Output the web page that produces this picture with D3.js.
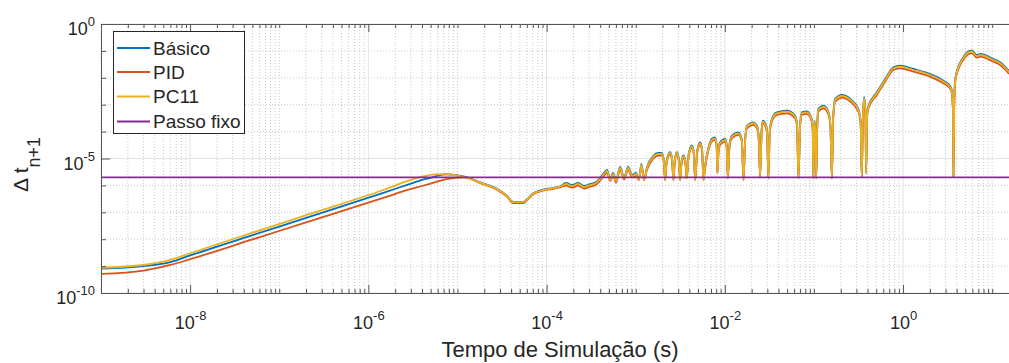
<!DOCTYPE html>
<html><head><meta charset="utf-8">
<script src="https://cdn.jsdelivr.net/npm/d3@7"></script>
<style>body{margin:0;background:#fff}svg{display:block}text{font-family:"Liberation Sans",Arial,Helvetica,sans-serif;fill:#262626}</style>
</head><body>
<script>
// ---------- DATA ----------
const seriesNames = ["Básico", "PID", "PC11", "Passo fixo"];
const seriesColors = ["#0072BD", "#D95319", "#EDB120", "#7E2F8E"];

const time = [
 1e-9, 3e-9, 6e-9, 1e-8, 5e-8, 2e-7, 1.5e-6, 3e-6, 4e-6, 5e-6, 6e-6, 7.5e-6, 1.2e-5, 1.8e-5, 2.8e-5, 3.6e-5, 4.2e-5, 5.5e-5, 6.0e-5, 7.1e-5, 8.5e-5, 1.2e-4, 1.4e-4,
 1.66e-4, 1.93e-4, 2.26e-4, 2.64e-4, 3.08e-4, 3.60e-4, 3.98e-4, 4.41e-4, 4.78e-4, 5.16e-4, 5.57e-4, 6.03e-4, 6.68e-4, 7.41e-4, 8.22e-4, 9.12e-4,
 1.01e-3, 1.08e-3, 1.16e-3, 1.24e-3, 1.34e-3, 1.57e-3, 1.78e-3, 1.95e-3, 2.06e-3, 2.14e-3, 2.22e-3, 2.43e-3, 2.55e-3, 2.65e-3, 2.75e-3, 2.89e-3,
 3.03e-3, 3.15e-3, 3.27e-3, 3.43e-3, 3.61e-3, 3.74e-3, 3.93e-3, 4.27e-3, 4.47e-3, 4.65e-3, 4.89e-3, 5.28e-3, 5.56e-3, 5.75e-3, 6.01e-3, 6.50e-3,
 7.14e-3, 7.78e-3, 8.09e-3, 8.26e-3, 8.51e-3, 8.85e-3, 1.01e-2, 1.05e-2, 1.08e-2, 1.13e-2, 1.20e-2, 1.42e-2, 1.55e-2, 1.62e-2, 1.69e-2, 1.77e-2,
 2.09e-2, 2.29e-2, 2.39e-2, 2.49e-2, 2.59e-2, 2.67e-2, 2.91e-2, 2.99e-2, 3.08e-2, 3.20e-2, 3.37e-2, 3.83e-2, 4.97e-2, 6.15e-2, 6.47e-2, 6.70e-2,
 7.00e-2, 7.31e-2, 8.32e-2, 9.46e-2, 9.70e-2, 9.86e-2, 1.005e-1, 1.019e-1, 1.04e-1, 1.06e-1, 1.09e-1, 1.12e-1, 1.28e-1, 1.46e-1, 1.53e-1, 1.59e-1,
 1.64e-1, 1.73e-1, 2.06e-1, 2.55e-1, 3.15e-1, 3.34e-1, 3.44e-1, 3.55e-1, 3.66e-1, 3.78e-1, 3.85e-1, 3.95e-1, 4.09e-1, 5.08e-1, 6.29e-1, 7.80e-1,
 9.27e-1, 1.31, 2.01, 2.84, 3.38, 3.53, 3.63, 3.68, 3.74, 3.85, 4.38, 4.76, 5.24, 5.92, 6.73, 7.33, 10.3, 12.3, 15.5, 18.1
];

const basico = [
 8.1e-10, 1.0e-9, 1.4e-9, 2.5e-9, 1.41e-8, 6.2e-8, 5.4e-7, 1.17e-6, 1.6e-6, 1.9e-6, 2.3e-6, 2.6e-6, 2.1e-6, 1.3e-6, 7.3e-7, 4.1e-7, 2.45e-7, 2.45e-7, 3.0e-7, 5.1e-7, 6.5e-7, 8.1e-7, 9.1e-7,
 1.23e-6, 1.04e-6, 1.23e-6, 9.5e-7, 1.12e-6, 1.34e-6, 1.89e-6, 2.89e-6, 3.74e-6, 1.7e-6, 2.89e-6, 1.6e-6, 4.83e-6, 2.0e-6, 4.83e-6, 2.44e-6,
 2.89e-6, 1.62e-6, 6.25e-6, 1.62e-6, 4.83e-6, 1.24e-5, 1.6e-5, 1.6e-5, 9.6e-6, 1.62e-6, 8.1e-6, 1.74e-5, 1.13e-5, 1.62e-6, 9.6e-6, 1.74e-5,
 1.13e-5, 1.62e-6, 8.1e-6, 1.3e-5, 8.1e-6, 1.9e-6, 1.47e-5, 3.04e-5, 1.9e-5, 1.62e-6, 1.9e-5, 4.0e-5, 2.26e-5, 1.62e-6, 5.4e-6, 2.26e-5,
 5.31e-5, 6.15e-5, 3.47e-5, 3.0e-6, 2.26e-5, 4.0e-5, 5.31e-5, 3.18e-5, 1.9e-6, 3.47e-5, 7.04e-5, 9.43e-5, 5.31e-5, 1.62e-6, 5.31e-5, 1.61e-4,
 2.22e-4, 1.66e-4, 8.15e-5, 2.1e-6, 1.25e-4, 2.54e-4, 1.66e-4, 8.15e-5, 1.86e-6, 1.25e-4, 2.94e-4, 5.22e-4, 6.0e-4, 3.9e-4, 1.92e-4, 1.86e-6,
 1.92e-4, 5.22e-4, 5.69e-4, 2.94e-4, 1.25e-4, 1.86e-6, 1.25e-4, 2.49e-4, 8.15e-5, 1.86e-6, 1.92e-4, 6.92e-4, 9.19e-4, 5.22e-4, 1.92e-4, 1.86e-6,
 2.94e-4, 1.64e-3, 2.3e-3, 1.64e-3, 6.92e-4, 2.49e-4, 2.1e-6, 4.51e-4, 1.89e-3, 6.92e-4, 2.9e-6, 4.51e-4, 9.19e-4, 2.89e-3, 9.03e-3, 2.46e-2,
 2.82e-2, 2.13e-2, 1.38e-2, 7.8e-3, 4.96e-3, 3.23e-3, 6.92e-4, 2.1e-6, 6.92e-4, 9.03e-3, 3.77e-2, 5.94e-2, 8.87e-2, 1.04e-1, 7.04e-2, 7.67e-2, 5.0e-2, 3.77e-2, 1.79e-2, 1.07e-2
];

const pid = [
 5.1e-10, 6.8e-10, 1.1e-9, 1.8e-9, 9.8e-9, 4.2e-8, 3.5e-7, 7.4e-7, 9.5e-7, 1.17e-6, 1.4e-6, 1.7e-6, 2.0e-6, 1.22e-6, 6.8e-7, 3.8e-7, 2.2e-7, 2.2e-7, 2.8e-7, 4.7e-7, 6.0e-7, 7.5e-7, 8.5e-7,
 9.8e-7, 8.3e-7, 9.8e-7, 7.6e-7, 9.0e-7, 1.07e-6, 1.5e-6, 2.3e-6, 2.98e-6, 1.45e-6, 2.3e-6, 1.27e-6, 3.85e-6, 1.64e-6, 3.85e-6, 1.95e-6,
 2.3e-6, 1.55e-6, 4.99e-6, 1.55e-6, 3.85e-6, 9.9e-6, 1.28e-5, 1.28e-5, 7.7e-6, 1.55e-6, 6.4e-6, 1.39e-5, 9.0e-6, 1.55e-6, 7.7e-6, 1.39e-5,
 9.0e-6, 1.55e-6, 6.4e-6, 1.04e-5, 6.4e-6, 1.83e-6, 1.17e-5, 2.43e-5, 1.51e-5, 1.55e-6, 1.51e-5, 3.19e-5, 1.8e-5, 1.55e-6, 4.3e-6, 1.8e-5,
 4.24e-5, 4.91e-5, 2.77e-5, 2.8e-6, 1.8e-5, 3.19e-5, 4.24e-5, 2.54e-5, 1.83e-6, 2.77e-5, 5.62e-5, 7.53e-5, 4.24e-5, 1.55e-6, 4.24e-5, 1.29e-4,
 1.77e-4, 1.32e-4, 6.51e-5, 2.05e-6, 1.0e-4, 2.03e-4, 1.32e-4, 6.51e-5, 1.8e-6, 1.0e-4, 2.35e-4, 4.17e-4, 4.79e-4, 3.11e-4, 1.53e-4, 1.8e-6,
 1.53e-4, 4.17e-4, 4.54e-4, 2.35e-4, 1.0e-4, 1.8e-6, 1.0e-4, 1.98e-4, 6.51e-5, 1.8e-6, 1.53e-4, 5.52e-4, 7.33e-4, 4.17e-4, 1.53e-4, 1.8e-6,
 2.35e-4, 1.31e-3, 1.84e-3, 1.31e-3, 5.52e-4, 1.98e-4, 2.05e-6, 3.6e-4, 1.51e-3, 5.52e-4, 2.75e-6, 3.6e-4, 7.33e-4, 2.31e-3, 7.2e-3, 1.97e-2,
 2.25e-2, 1.7e-2, 1.1e-2, 6.23e-3, 3.96e-3, 2.58e-3, 5.52e-4, 2.05e-6, 5.52e-4, 7.2e-3, 3.01e-2, 4.74e-2, 7.08e-2, 8.27e-2, 5.62e-2, 6.12e-2, 3.99e-2, 3.01e-2, 1.43e-2, 8.5e-3
];

const pc11 = [
 8.7e-10, 1.1e-9, 1.7e-9, 3.0e-9, 1.74e-8, 7.8e-8, 6.9e-7, 1.6e-6, 2.1e-6, 2.45e-6, 2.6e-6, 2.6e-6, 2.0e-6, 1.26e-6, 7.1e-7, 4.0e-7, 2.4e-7, 2.4e-7, 2.95e-7, 5.0e-7, 6.3e-7, 7.9e-7, 8.9e-7,
 1.13e-6, 9.5e-7, 1.13e-6, 8.7e-7, 1.03e-6, 1.23e-6, 1.73e-6, 2.65e-6, 3.43e-6, 1.59e-6, 2.65e-6, 1.46e-6, 4.43e-6, 1.88e-6, 4.43e-6, 2.24e-6,
 2.65e-6, 1.59e-6, 5.73e-6, 1.59e-6, 4.43e-6, 1.14e-5, 1.47e-5, 1.47e-5, 8.8e-6, 1.59e-6, 7.4e-6, 1.60e-5, 1.04e-5, 1.59e-6, 8.8e-6, 1.60e-5,
 1.04e-5, 1.59e-6, 7.4e-6, 1.19e-5, 7.4e-6, 1.88e-6, 1.35e-5, 2.79e-5, 1.74e-5, 1.59e-6, 1.74e-5, 3.67e-5, 2.07e-5, 1.59e-6, 4.96e-6, 2.07e-5,
 4.87e-5, 5.64e-5, 3.18e-5, 2.89e-6, 2.07e-5, 3.67e-5, 4.87e-5, 2.92e-5, 1.88e-6, 3.18e-5, 6.46e-5, 8.65e-5, 4.87e-5, 1.59e-6, 4.87e-5, 1.48e-4,
 2.04e-4, 1.52e-4, 7.48e-5, 2.10e-6, 1.15e-4, 2.33e-4, 1.52e-4, 7.48e-5, 1.84e-6, 1.15e-4, 2.70e-4, 4.79e-4, 5.50e-4, 3.58e-4, 1.76e-4, 1.84e-6,
 1.76e-4, 4.79e-4, 5.22e-4, 2.70e-4, 1.15e-4, 1.84e-6, 1.15e-4, 2.28e-4, 7.48e-5, 1.84e-6, 1.76e-4, 6.35e-4, 8.43e-4, 4.79e-4, 1.76e-4, 1.84e-6,
 2.70e-4, 1.50e-3, 2.11e-3, 1.50e-3, 6.35e-4, 2.28e-4, 2.10e-6, 4.14e-4, 1.73e-3, 6.35e-4, 2.82e-6, 4.14e-4, 8.43e-4, 2.65e-3, 8.28e-3, 2.26e-2,
 2.59e-2, 1.95e-2, 1.27e-2, 7.16e-3, 4.55e-3, 2.96e-3, 6.35e-4, 2.10e-6, 6.35e-4, 8.28e-3, 3.46e-2, 5.45e-2, 8.14e-2, 9.5e-2, 6.46e-2, 7.04e-2, 4.59e-2, 3.46e-2, 1.64e-2, 9.8e-3
];

const passoFixoTime = [1e-9, 20];
const passoFixo = [2e-6, 2e-6];

const xDomain = [1e-9, 20];
const yDomain = [1e-10, 1];
const xMajorTicks = [1e-8, 1e-6, 1e-4, 1e-2, 1e0];
const yMajorTicks = [1e-10, 1e-5, 1e0];
const xLabel = "Tempo de Simulação (s)";

// ---------- LAYOUT ----------
const W = 1009, H = 363;
const L = 101, R = 1019, T = 24, B = 293;
const svg = d3.select("body").append("svg").attr("width", W).attr("height", H);

const x = d3.scaleLog().domain(xDomain).range([L, R]);
const y = d3.scaleLog().domain(yDomain).range([B, T]);

const xMinor = [];
for (let e = -9; e <= 1; e++) for (let m = 1; m <= 9; m++) {
  const v = m * Math.pow(10, e);
  if (v >= xDomain[0] && v <= xDomain[1] && !xMajorTicks.some(t => Math.abs(t - v) / v < 1e-9)) xMinor.push(v);
}
const yMinor = [];
for (let e = -10; e <= 0; e++) { const v = Math.pow(10, e); if (!yMajorTicks.some(t => Math.abs(t - v) / v < 1e-9)) yMinor.push(v); }

// grid
const grid = svg.append("g");
grid.selectAll(".gxm").data(xMinor).join("line")
  .attr("x1", d => x(d)).attr("x2", d => x(d)).attr("y1", T).attr("y2", B)
  .attr("stroke", "#c9c9c9").attr("stroke-width", 1).attr("stroke-dasharray", "1,2");
grid.selectAll(".gym").data(yMinor).join("line")
  .attr("x1", L).attr("x2", W).attr("y1", d => y(d)).attr("y2", d => y(d))
  .attr("stroke", "#c9c9c9").attr("stroke-width", 1).attr("stroke-dasharray", "1,2");
grid.selectAll(".gxM").data(xMajorTicks).join("line")
  .attr("x1", d => x(d)).attr("x2", d => x(d)).attr("y1", T).attr("y2", B)
  .attr("stroke", "#e3e3e3").attr("stroke-width", 1);
grid.selectAll(".gyM").data(yMajorTicks).join("line")
  .attr("x1", L).attr("x2", W).attr("y1", d => y(d)).attr("y2", d => y(d))
  .attr("stroke", "#e3e3e3").attr("stroke-width", 1);

// lines
svg.append("clipPath").attr("id", "clip").append("rect").attr("x", L).attr("y", T).attr("width", R - L).attr("height", B - T);
const plot = svg.append("g").attr("clip-path", "url(#clip)");
const line = d3.line().x(d => x(d[0])).y(d => y(d[1])).curve(d3.curveMonotoneX);
const series = [basico, pid, pc11];
series.forEach((s, i) => {
  plot.append("path").datum(time.map((t, k) => [t, s[k]]))
    .attr("d", line).attr("fill", "none").attr("stroke", seriesColors[i])
    .attr("stroke-width", 1.8).attr("stroke-linejoin", "round");
});
plot.append("path").datum(passoFixoTime.map((t, k) => [t, passoFixo[k]]))
  .attr("d", d3.line().x(d => x(d[0])).y(d => y(d[1])))
  .attr("fill", "none").attr("stroke", seriesColors[3]).attr("stroke-width", 1.8);

// axes
const axCol = "#555";
function styleAxis(g) {
  g.selectAll(".domain").attr("stroke", axCol);
  g.selectAll(".tick line").attr("stroke", axCol);
}
function supLabels(g) {
  g.selectAll(".tick text").each(function (d) {
    const t = d3.select(this);
    t.text(null).attr("font-size", 18).attr("fill", "#262626").attr("font-family", "Liberation Sans, Arial, sans-serif");
    t.append("tspan").text("10");
    t.append("tspan").attr("dy", -9).attr("font-size", 13).text(Math.round(Math.log10(d)));
  });
}
svg.append("g").attr("transform", `translate(0,${B})`)
  .call(d3.axisBottom(x).tickValues(xMinor).tickSize(-4).tickSizeOuter(0).tickFormat(""))
  .call(styleAxis);
svg.append("g").attr("transform", `translate(0,${B})`)
  .call(d3.axisBottom(x).tickValues(xMajorTicks).tickSize(-8).tickSizeOuter(0).tickPadding(23))
  .call(styleAxis).call(g => g.select(".domain").remove()).call(supLabels);
svg.append("g").attr("transform", `translate(0,${T})`)
  .call(d3.axisTop(x).tickValues(xMinor).tickSize(-4).tickSizeOuter(0).tickFormat(""))
  .call(styleAxis);
svg.append("g").attr("transform", `translate(0,${T})`)
  .call(d3.axisTop(x).tickValues(xMajorTicks).tickSize(-8).tickSizeOuter(0).tickFormat(""))
  .call(styleAxis).call(g => g.select(".domain").remove());
svg.append("g").attr("transform", `translate(${L},0)`)
  .call(d3.axisLeft(y).tickValues(yMinor).tickSize(-5).tickSizeOuter(0).tickFormat(""))
  .call(styleAxis);
svg.append("g").attr("transform", `translate(${L},0)`)
  .call(d3.axisLeft(y).tickValues(yMajorTicks).tickSize(-9).tickSizeOuter(0).tickPadding(6))
  .call(styleAxis).call(g => g.select(".domain").remove()).call(supLabels)
  .call(g => g.selectAll(".tick text").attr("dy", "0.6em"));

// axis titles
svg.append("text").attr("x", (L + R) / 2).attr("y", 357).attr("text-anchor", "middle")
  .attr("font-size", 22).text(xLabel);
const yl = svg.append("text").attr("transform", "translate(28,192) rotate(-90)").attr("font-size", 21);
yl.append("tspan").text("Δ t");
yl.append("tspan").attr("dy", 12).attr("font-size", 18).text("n+1");

// legend
const lg = svg.append("g");
lg.append("rect").attr("x", 113.5).attr("y", 31.5).attr("width", 131).attr("height", 102)
  .attr("fill", "#fff").attr("stroke", "#262626").attr("stroke-width", 1);
const rowsY = [48, 72, 96.5, 121.5];
seriesNames.forEach((n, i) => {
  lg.append("line").attr("x1", 117).attr("x2", 150).attr("y1", rowsY[i]).attr("y2", rowsY[i])
    .attr("stroke", seriesColors[i]).attr("stroke-width", 1.8);
  lg.append("text").attr("x", 153).attr("y", rowsY[i]).attr("dy", "0.36em").attr("font-size", 19).text(n);
});
</script>
</body></html>
